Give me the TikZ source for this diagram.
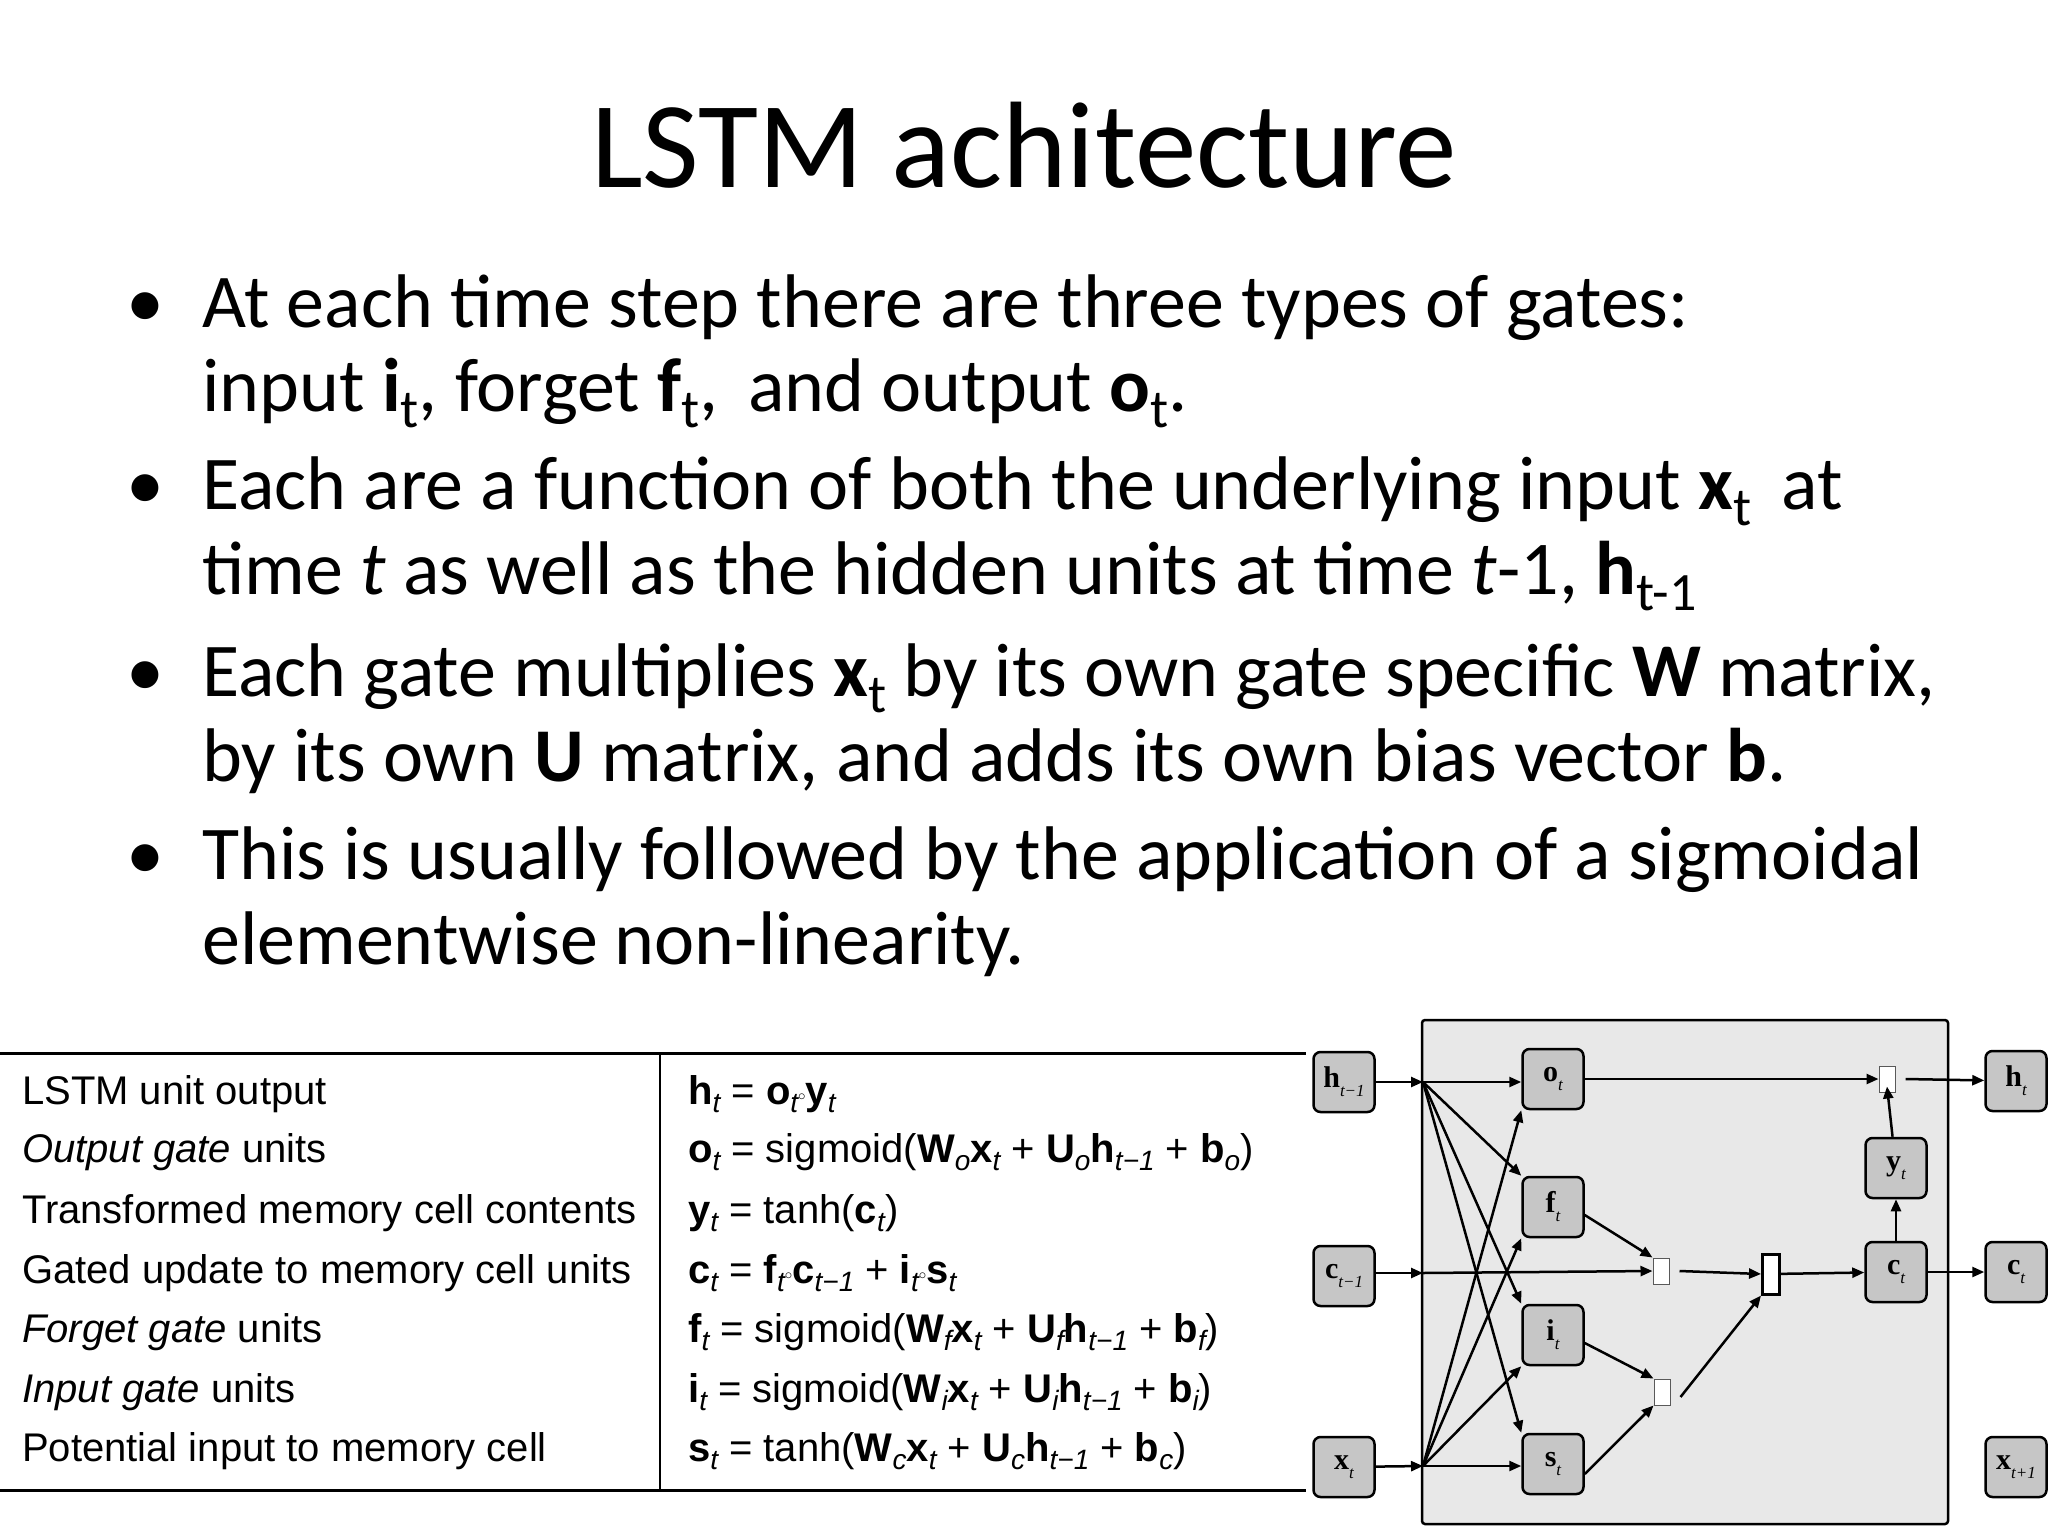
\documentclass[tikz,border=0pt]{standalone}
\usepackage{fontspec}
\setmainfont{Carlito}
\newfontfamily\tabf{Liberation Sans}
\newfontfamily\dser{Liberation Serif}
\usetikzlibrary{arrows.meta}
\newcommand\bsub[1]{\raisebox{-0.22em}{\fontsize{54}{54}\selectfont #1}}
\newcommand\esub[1]{\raisebox{-0.2em}{\fontsize{28}{28}\selectfont\itshape #1}}
\newcommand\ecirc{\raisebox{0.1em}{\scalebox{0.6}{$\circ$}}}
\newcommand\dl[2]{{\dser\bfseries #1\raisebox{-0.3em}{\fontsize{17}{17}\selectfont\mdseries\itshape #2}}}
\begin{document}
\begin{tikzpicture}[x=1pt,y=-1pt,
  bul/.style={anchor=base west,inner sep=0,font=\fontsize{76}{76}\selectfont},
  lt/.style={anchor=base west,inner sep=0,font=\tabf\fontsize{40}{40}\selectfont},
  nd/.style={draw,line width=2.5pt,rounded corners=7pt,fill=gray!45,minimum width=61pt,minimum height=60pt,inner sep=0,font=\fontsize{30}{30}\selectfont},
  pr/.style={draw=gray!70!black,line width=1pt,fill=white,minimum width=16pt,minimum height=26pt,inner sep=0},
  ar/.style={line width=2.5pt,-{Triangle[length=12pt,width=10pt]}},
  ln/.style={line width=2.5pt}]
\useasboundingbox (0,0) rectangle (2048,1536);
\fill[white] (0,0) rectangle (2048,1536);
\node[anchor=base,inner sep=0,font=\fontsize{123}{123}\selectfont] (title) at (1024,187) {LSTM achitecture};
% bullets
\foreach \y/\n in {327/b1,509/b2,696/b3,879/b4}{\node[bul] (\n) at (126,\y) {•};}
\node[bul] (l1) at (202,327) {At each time step there are three types of gates:};
\node[bul] (l2) at (202,411) {input \textbf{i}\bsub{t}, forget \textbf{f}\bsub{t},\, and output \textbf{o}\bsub{t}.};
\node[bul] (l3) at (202,509) {Each are a function of both the underlying input \textbf{x}\bsub{t}\, at};
\node[bul] (l4) at (202,594) {time \textit{t} as well as the hidden units at time \textit{t}-1, \textbf{h}\bsub{t-1}};
\node[bul] (l5) at (202,696) {Each gate multiplies \textbf{x}\bsub{t} by its own gate specific \textbf{W} matrix,};
\node[bul] (l6) at (202,781) {by its own \textbf{U} matrix, and adds its own bias vector \textbf{b}.};
\node[bul] (l7) at (202,879) {This is usually followed by the application of a sigmoidal};
\node[bul] (l8) at (202,964) {elementwise non-linearity.};
% table
\draw[line width=3pt] (0,1053) -- (1306,1053);
\draw[line width=3pt] (0,1490) -- (1306,1490);
\draw[line width=2pt] (660,1053) -- (660,1490);
\foreach \y/\t [count=\i] in {1104/{LSTM unit output},1162/{\textit{Output gate} units},1223/{Transformed memory cell contents},1283/{Gated update to memory cell units},1342/{\textit{Forget gate} units},1402/{\textit{Input gate} units},1461/{Potential input to memory cell}}{\node[lt] (t\i) at (22,\y) {\t};}
\node[lt] (e1) at (688,1104) {\textbf{h}\esub{t} = \textbf{o}\esub{t}\ecirc\textbf{y}\esub{t}};
\node[lt] (e2) at (688,1162) {\textbf{o}\esub{t} = sigmoid(\textbf{W}\esub{o}\textbf{x}\esub{t} + \textbf{U}\esub{o}\textbf{h}\esub{t−1} + \textbf{b}\esub{o})};
\node[lt] (e3) at (688,1223) {\textbf{y}\esub{t} = tanh(\textbf{c}\esub{t})};
\node[lt] (e4) at (688,1283) {\textbf{c}\esub{t} = \textbf{f}\esub{t}\ecirc\textbf{c}\esub{t−1} + \textbf{i}\esub{t}\ecirc\textbf{s}\esub{t}};
\node[lt] (e5) at (688,1342) {\textbf{f}\esub{t} = sigmoid(\textbf{W}\esub{f}\textbf{x}\esub{t} + \textbf{U}\esub{f}\textbf{h}\esub{t−1} + \textbf{b}\esub{f})};
\node[lt] (e6) at (688,1402) {\textbf{i}\esub{t} = sigmoid(\textbf{W}\esub{i}\textbf{x}\esub{t} + \textbf{U}\esub{i}\textbf{h}\esub{t−1} + \textbf{b}\esub{i})};
\node[lt] (e7) at (688,1461) {\textbf{s}\esub{t} = tanh(\textbf{W}\esub{c}\textbf{x}\esub{t} + \textbf{U}\esub{c}\textbf{h}\esub{t−1} + \textbf{b}\esub{c})};
% diagram
\draw[line width=2.5pt,rounded corners=3pt,fill=gray!18] (1422,1020) rectangle (1948,1524);
\node[nd] (hp) at (1344,1082) {\dl{h}{t−1}};
\node[nd] (cp) at (1344,1276) {\dl{c}{t−1}};
\node[nd] (xt) at (1344,1467) {\dl{x}{t}};
\node[nd] (o) at (1553,1079) {\dl{o}{t}};
\node[nd] (f) at (1553,1207) {\dl{f}{t}};
\node[nd] (i) at (1553,1335) {\dl{i}{t}};
\node[nd] (s) at (1553,1464) {\dl{s}{t}};
\node[nd] (c) at (1896,1272) {\dl{c}{t}};
\node[nd] (y) at (1896,1168) {\dl{y}{t}};
\node[nd] (ho) at (2016,1081) {\dl{h}{t}};
\node[nd] (co) at (2016,1272) {\dl{c}{t}};
\node[nd] (xn) at (2016,1467) {\dl{x}{t+1}};
\node[pr] (pt) at (1887,1079) {};
\node[pr] (pf) at (1661,1271) {};
\node[pr] (pi) at (1662,1392) {};
\node[draw,line width=3pt,fill=white,minimum width=17pt,minimum height=40pt,inner sep=0] (sum) at (1771,1274) {};
\coordinate (jh) at (1423,1082);
\coordinate (jx) at (1423,1466);
\coordinate (jc) at (1423,1273);
\draw[ar] (hp) -- (jh);
\draw[ar] (xt) -- (jx);
\draw[ar] (cp.east|-jc) -- (jc);
\draw[ar] (jc) -- (pf.west);
\draw[ar] (jh) -- (o.west|-jh);
\foreach \g in {f,i,s}{\draw[ar] (jh) -- (\g.north west);}
\draw[ar] (jx) -- (s.west|-jx);
\foreach \g in {o,f,i}{\draw[ar] (jx) -- (\g.south west);}
\draw[ar] ([yshift=-8pt]f.east) -- (pf.north west);
\draw[ar] ([yshift=-8pt]i.east) -- (pi.north west);
\draw[ar] ([yshift=-10pt]s.east) -- (pi.south west);
\draw[ar] ([xshift=10pt]pf.east) -- (sum.west);
\draw[ar] ([xshift=10pt,yshift=-5pt]pi.east) -- (sum.south west);
\draw[ar] (sum) -- (c);
\draw[ar] (c) -- (co);
\draw[ar] (c) -- (y);
\draw[ar] (y) -- ([yshift=6pt]pt.south);
\draw[ar] (o) -- (pt);
\draw[ar] ([xshift=10pt]pt.east) -- (ho);
\end{tikzpicture}
\end{document}
